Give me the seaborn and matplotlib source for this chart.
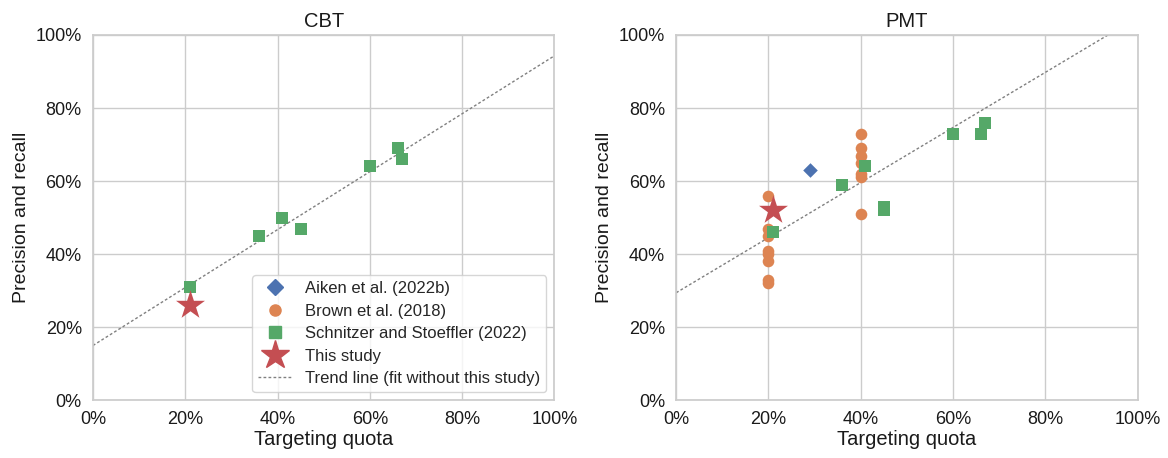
import numpy as np
import pandas as pd
import matplotlib
matplotlib.use("Agg")
import matplotlib.pyplot as plt
import seaborn as sns
from matplotlib.lines import Line2D
from matplotlib.ticker import PercentFormatter

# ---- data (targeting quota %, precision and recall %) ----
cbt_schnitzer_quota = [21, 36, 41, 45, 60, 66, 67]
cbt_schnitzer_perf = [31, 45, 50, 47, 64, 69, 66]
cbt_study_quota = [21]
cbt_study_perf = [26]

pmt_aiken_quota = [29]
pmt_aiken_perf = [63]
pmt_brown_quota = [20, 20, 20, 20, 20, 20, 20, 20, 40, 40, 40, 40, 40, 40, 40]
pmt_brown_perf = [56, 47, 45, 41, 40, 38, 33, 32, 73, 69, 67, 65, 62, 61, 51]
pmt_schnitzer_quota = [21, 36, 41, 45, 45, 60, 66, 67]
pmt_schnitzer_perf = [46, 59, 64, 53, 52, 73, 73, 76]
pmt_study_quota = [21]
pmt_study_perf = [52]

# trend lines (intercept %, slope)
cbt_trend = (15.0, 0.793)
pmt_trend = (29.45, 0.754)

sources = ["Aiken et al. (2022b)", "Brown et al. (2018)", "Schnitzer and Stoeffler (2022)"]

sns.set_theme(style="whitegrid")
plt.rcParams['font.family'] = ['Liberation Sans', 'DejaVu Sans']

deep = sns.color_palette("deep")
colors = {sources[0]: deep[0], sources[1]: deep[1], sources[2]: deep[2]}
markers = {sources[0]: "D", sources[1]: "o", sources[2]: "s"}
star_color = deep[3]
trend_style = dict(color="0.5", lw=1.0, ls=(0, (2, 1.6)))


def make_df(groups):
    rows = []
    for src, q, p in groups:
        for a, b in zip(q, p):
            rows.append({"quota": a, "perf": b, "source": src})
    return pd.DataFrame(rows)


cbt = make_df([(sources[2], cbt_schnitzer_quota, cbt_schnitzer_perf)])
pmt = make_df([
    (sources[0], pmt_aiken_quota, pmt_aiken_perf),
    (sources[1], pmt_brown_quota, pmt_brown_perf),
    (sources[2], pmt_schnitzer_quota, pmt_schnitzer_perf),
])

fig, axes = plt.subplots(1, 2, figsize=(11.68, 4.58), dpi=100)
fig.subplots_adjust(left=0.0796, right=0.974, top=0.9236, bottom=0.126, wspace=0.264)

panels = [
    (axes[0], "CBT", cbt, cbt_study_quota, cbt_study_perf, cbt_trend),
    (axes[1], "PMT", pmt, pmt_study_quota, pmt_study_perf, pmt_trend),
]

for ax, title, df, sq, sp, (icpt, slope) in panels:
    # trend line (fit without this study)
    ax.axline((0, icpt), slope=slope, zorder=1, **trend_style)

    for src in sources:
        sub = df[df["source"] == src]
        if len(sub) == 0:
            continue
        sns.scatterplot(data=sub, x="quota", y="perf", ax=ax, color=colors[src],
                        marker=markers[src], s=70 if src != sources[0] else 55,
                        linewidth=0, zorder=3, legend=False)
    sns.scatterplot(x=sq, y=sp, ax=ax, color=star_color, marker="*", s=480,
                    linewidth=0, zorder=4, legend=False)

    ax.set_xlim(0, 100)
    ax.set_ylim(0, 100)
    ax.set_xticks(range(0, 101, 20))
    ax.set_yticks(range(0, 101, 20))
    ax.xaxis.set_major_formatter(PercentFormatter(decimals=0))
    ax.yaxis.set_major_formatter(PercentFormatter(decimals=0))
    ax.tick_params(labelsize=13, colors="0.1", pad=2)
    ax.set_xlabel("Targeting quota", fontsize=14.5, color="0.1", labelpad=1)
    ax.set_ylabel("Precision and recall", fontsize=14, color="0.1", labelpad=4)
    ax.set_title(title, fontsize=14.5, color="0.1", pad=6)

handles = [
    Line2D([], [], ls="", marker="D", color=colors[sources[0]], markersize=8),
    Line2D([], [], ls="", marker="o", color=colors[sources[1]], markersize=8),
    Line2D([], [], ls="", marker="s", color=colors[sources[2]], markersize=8),
    Line2D([], [], ls="", marker="*", color=star_color, markersize=21),
    Line2D([], [], **trend_style),
]
labels = sources + ["This study", "Trend line (fit without this study)"]
axes[0].legend(handles, labels, loc="lower right", fontsize=12, frameon=True,
               handlelength=2.0, labelspacing=0.45, borderpad=0.35)

fig.savefig("out.png", dpi=100)
